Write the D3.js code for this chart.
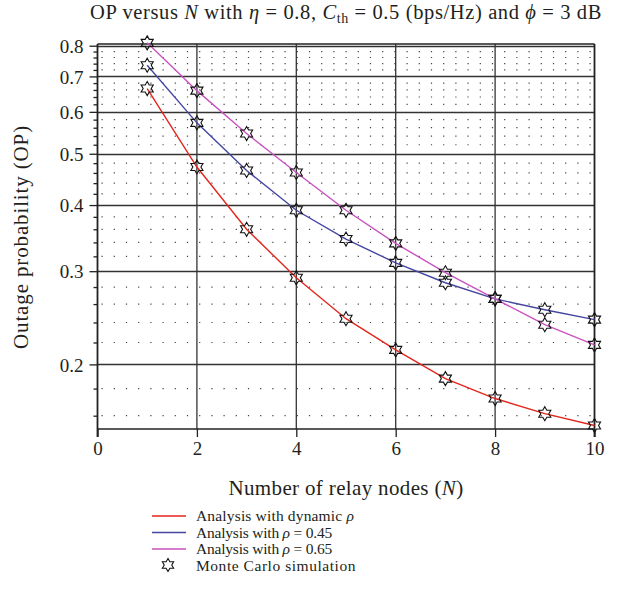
<!DOCTYPE html>
<html><head><meta charset="utf-8">
<script src="https://cdn.jsdelivr.net/npm/d3@7"></script>
<style>body{margin:0;background:#fff}svg{display:block}text{font-family:"Liberation Serif","DejaVu Serif",serif;fill:#231f20}</style>
</head><body><svg id="c" width="621" height="616"></svg>
<script>
const relayNodes = [1,2,3,4,5,6,7,8,9,10];
const opDynamic = [0.664,0.472,0.360,0.2915,0.244,0.213,0.188,0.1724,0.1614,0.1533];
const op045 = [0.735,0.572,0.465,0.391,0.345,0.311,0.2853,0.266,0.2537,0.243];
const op065 = [0.81,0.658,0.546,0.461,0.391,0.3386,0.298,0.266,0.2377,0.2177];
const xTicks = [0,2,4,6,8,10];
const yMajorTicks = [0.2,0.3,0.4,0.5,0.6,0.7,0.8];
const yMinorTicks = [0.16,0.18,0.22,0.24,0.26,0.28,0.32,0.34,0.36,0.38,0.42,0.44,0.46,0.48,0.52,0.54,0.56,0.58,0.62,0.64,0.66,0.68,0.72,0.74,0.76,0.78];
const seriesNames = ["dynamic","0.45","0.65"];
const colors = {"dynamic":"#e3261c","0.45":"#4446a0","0.65":"#c952c0"};

const svg = d3.select("#c");
const L=97.5, R=594.5, T=44, B=429;
const x = d3.scaleLinear().domain([0,10]).range([L,R]);
const y = d3.scaleLog().domain([0.151,0.806]).range([B,T]);

function fit(sel, target){
  const w = sel.node().getComputedTextLength();
  const n = sel.text().length;
  sel.attr("letter-spacing", ((target - w)/n).toFixed(3));
}

// minor dotted grid
svg.append("g").selectAll("line").data(yMinorTicks).join("line")
  .attr("x1",L+4).attr("x2",R).attr("y1",d=>y(d)).attr("y2",d=>y(d))
  .attr("stroke","#444").attr("stroke-width",1.2).attr("stroke-dasharray","1.2,11");
// major horizontal grid
svg.append("g").selectAll("line").data(yMajorTicks).join("line")
  .attr("x1",L).attr("x2",R).attr("y1",d=>Math.round(y(d))+0.5).attr("y2",d=>Math.round(y(d))+0.5)
  .attr("stroke","#333").attr("stroke-width",1.3);
// vertical grid
svg.append("g").selectAll("line").data(xTicks.filter(d=>d>0&&d<10)).join("line")
  .attr("x1",d=>x(d)).attr("x2",d=>x(d)).attr("y1",T).attr("y2",B)
  .attr("stroke","#333").attr("stroke-width",1.3);
// border
svg.append("line").attr("x1",L).attr("x2",R).attr("y1",T).attr("y2",T).attr("stroke","#222").attr("stroke-width",1.5);
svg.append("line").attr("x1",L).attr("x2",R).attr("y1",B).attr("y2",B).attr("stroke","#222").attr("stroke-width",1.5);
svg.append("line").attr("x1",R).attr("x2",R).attr("y1",T).attr("y2",B+8).attr("stroke","#222").attr("stroke-width",1.8);
svg.append("line").attr("x1",L).attr("x2",L).attr("y1",T).attr("y2",B+8).attr("stroke","#222").attr("stroke-width",1.8);

// x axis
const xAxis = d3.axisBottom(x).tickValues(xTicks).tickSize(8).tickPadding(5).tickFormat(d3.format("d"));
const gx = svg.append("g").attr("transform",`translate(0,${B})`).call(xAxis);
gx.select(".domain").remove();
gx.selectAll(".tick line").attr("stroke","#222").attr("stroke-width",1.3);
gx.selectAll(".tick text").attr("font-size",19).attr("font-family","Liberation Serif").attr("fill","#231f20");

// y axis major
const yAxis = d3.axisLeft(y).tickValues(yMajorTicks).tickSize(8).tickPadding(6).tickFormat(d3.format(".1f"));
const gy = svg.append("g").attr("transform",`translate(${L},0)`).call(yAxis);
gy.select(".domain").remove();
gy.selectAll(".tick line").attr("stroke","#222").attr("stroke-width",1.3);
gy.selectAll(".tick text").attr("font-size",19).attr("font-family","Liberation Serif").attr("fill","#231f20").attr("dy","0.35em");
// y axis minor
const gym = svg.append("g").attr("transform",`translate(${L},0)`).call(d3.axisLeft(y).tickValues(yMinorTicks).tickSize(4).tickFormat(""));
gym.select(".domain").remove();
gym.selectAll(".tick line").attr("stroke","#222").attr("stroke-width",1.3);

// lines
const lineGen = d3.line().x((d,i)=>x(relayNodes[i])).y(d=>y(d));
const data = {"dynamic":opDynamic,"0.45":op045,"0.65":op065};
seriesNames.forEach(s=>{
  svg.append("path").datum(data[s]).attr("d",lineGen).attr("fill","none")
    .attr("stroke",colors[s]).attr("stroke-width",1.4);
});

// hexagram marker
function hexagram(cx,cy,r){
  const ri=r/Math.sqrt(3); const pts=[];
  for(let k=0;k<12;k++){const a=-Math.PI/2+k*Math.PI/6; const rr=k%2===0?r:ri; pts.push([cx+rr*Math.cos(a),cy+rr*Math.sin(a)]);}
  return "M"+pts.map(p=>p[0].toFixed(2)+","+p[1].toFixed(2)).join("L")+"Z";
}
seriesNames.forEach(s=>{
  svg.append("g").selectAll("path").data(data[s]).join("path")
    .attr("d",(d,i)=>hexagram(x(relayNodes[i]),y(d),7))
    .attr("fill","none").attr("stroke","#111").attr("stroke-width",1.1);
});

// title
const title = svg.append("text").attr("x",346).attr("y",19).attr("text-anchor","middle").attr("font-size",20.5);
title.append("tspan").text("OP versus ");
title.append("tspan").attr("font-style","italic").text("N");
title.append("tspan").text(" with ");
title.append("tspan").attr("font-style","italic").text("η");
title.append("tspan").text(" = 0.8, ");
title.append("tspan").attr("font-style","italic").text("C");
title.append("tspan").attr("font-size",14).attr("dy",4).text("th");
title.append("tspan").attr("dy",-4).text(" = 0.5 (bps/Hz) and ");
title.append("tspan").attr("font-style","italic").text("ϕ");
title.append("tspan").text(" = 3 dB");
fit(title, 512);

// axis labels
const xl = svg.append("text").attr("x",346).attr("y",495).attr("text-anchor","middle").attr("font-size",21);
xl.append("tspan").text("Number of relay nodes (");
xl.append("tspan").attr("font-style","italic").text("N");
xl.append("tspan").text(")");
fit(xl, 235);
const yl = svg.append("text").attr("transform","translate(28,237) rotate(-90)").attr("text-anchor","middle").attr("font-size",21)
  .text("Outage probability (OP)");
fit(yl, 224);

// legend
const legendLabels = [
  [["Analysis with dynamic ",false],["ρ",true]],
  [["Analysis with ",false],["ρ",true],[" = 0.45",false]],
  [["Analysis with ",false],["ρ",true],[" = 0.65",false]]
];
const ly = [516,532.5,549];
seriesNames.forEach((s,i)=>{
  svg.append("line").attr("x1",152).attr("x2",186).attr("y1",ly[i]).attr("y2",ly[i]).attr("stroke",colors[s]).attr("stroke-width",1.4);
  const t = svg.append("text").attr("x",196).attr("y",ly[i]+5).attr("font-size",15.5);
  legendLabels[i].forEach(p=>{t.append("tspan").attr("font-style",p[1]?"italic":"normal").text(p[0]);});
  fit(t, i===0?158:136);
});
svg.append("path").attr("d",hexagram(168,565,6.5)).attr("fill","none").attr("stroke","#111").attr("stroke-width",1.1);
const mc = svg.append("text").attr("x",196).attr("y",570.5).attr("font-size",15.5).text("Monte Carlo simulation");
fit(mc, 160);
</script></body></html>
